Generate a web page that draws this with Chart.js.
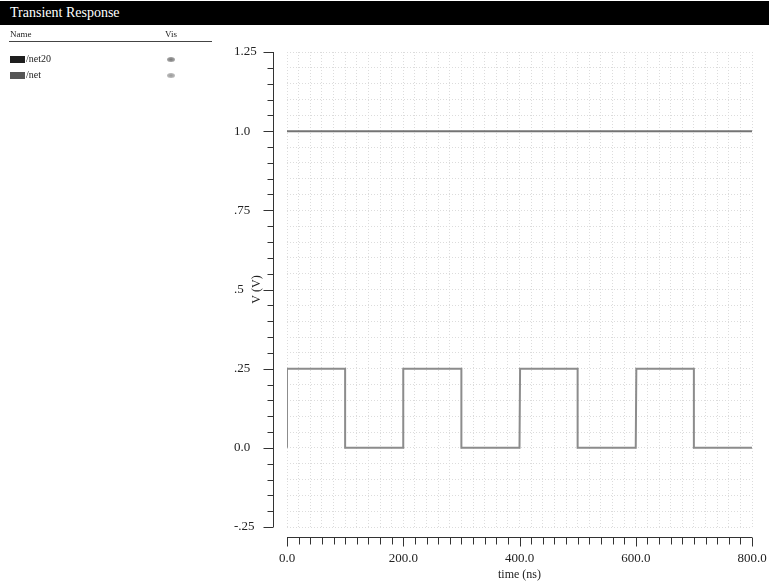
<!DOCTYPE html>
<html>
<head>
<meta charset="utf-8">
<script src="https://cdn.jsdelivr.net/npm/chart.js@4/dist/chart.umd.min.js"></script>
<style>
  body { margin: 0; background: #fff; width: 769px; height: 584px; overflow: hidden; position: relative; font-family: "Liberation Serif", serif; }
  #bar { position: absolute; left: 0; top: 1px; width: 769px; height: 24px; background: #000; color: #fff; font-size: 14px; line-height: 24px; padding-left: 10px; box-sizing: border-box; z-index: 2; }
  #panel { position: absolute; left: 0; top: 21px; width: 215px; font-size: 10px; color: #222; z-index: 2; }
  .hdr { position: absolute; top: 8px; font-size: 9px; }
  #rule { position: absolute; left: 9px; top: 20px; width: 203px; height: 1px; background: #444; }
  .row { position: absolute; left: 10px; height: 8px; }
  .sw { display: inline-block; width: 15px; height: 7px; vertical-align: top; }
  .lbl { position: absolute; left: 16px; top: -3px; }
  .eye { position: absolute; left: 157px; top: 1px; width: 8px; height: 5px; border-radius: 50%; background: radial-gradient(#777, #bbb); }
  #wrap { position: absolute; left: 0; top: 0; width: 769px; height: 584px; }
</style>
</head>
<body>
<div id="bar">Transient Response</div>
<div id="panel">
  <span class="hdr" style="left:10px">Name</span>
  <span class="hdr" style="left:165px">Vis</span>
  <div id="rule"></div>
  <div class="row" style="top:35px"><span class="sw" style="background:#1e1e1e"></span><span class="lbl">/net20</span><span class="eye"></span></div>
  <div class="row" style="top:51px"><span class="sw" style="background:#555"></span><span class="lbl">/net</span><span class="eye" style="background:radial-gradient(#999, #ccc)"></span></div>
</div>
<div id="wrap"><canvas id="c"></canvas></div>
<script>
// waveform vertices (time in ns, volts)
const net20Time = [0, 800];
const net20Volts = [1.0, 1.0];
const netTime = [0, 0, 100, 100, 200, 200, 300, 300, 400, 401, 500, 500, 600, 601, 700, 700, 800];
const netVolts = [0, 0.25, 0.25, 0, 0, 0.25, 0.25, 0, 0, 0.25, 0.25, 0, 0, 0.25, 0.25, 0, 0];
const yTickLabels = { '1.25': '1.25', '1': '1.0', '0.75': '.75', '0.5': '.5', '0.25': '.25', '0': '0.0', '-0.25': '-.25' };
const xTickLabels = [0, 200, 400, 600, 800];

const toPoints = (xs, ys) => xs.map((x, i) => ({ x, y: ys[i] }));
const isMajor = (v, step) => Math.abs(v / step - Math.round(v / step)) < 1e-6;

const axisPlugin = {
  id: 'waveAxes',
  afterDraw(chart) {
    const { ctx, chartArea, scales: { x, y } } = chart;
    ctx.save();
    ctx.strokeStyle = '#333';
    ctx.lineWidth = 1;
    // y axis, offset left of the grid
    const ax = chartArea.left - 13.5;
    ctx.beginPath();
    ctx.moveTo(ax, chartArea.top);
    ctx.lineTo(ax, chartArea.bottom);
    y.ticks.forEach(t => {
      const py = Math.round(y.getPixelForValue(t.value)) + 0.5;
      ctx.moveTo(ax, py);
      ctx.lineTo(ax - (isMajor(t.value, 0.25) ? 10 : 6), py);
    });
    // x axis, offset below the grid
    const ay = chartArea.bottom + 10.5;
    ctx.moveTo(chartArea.left, ay);
    ctx.lineTo(chartArea.right, ay);
    x.ticks.forEach(t => {
      const px = Math.round(x.getPixelForValue(t.value)) + 0.5;
      ctx.moveTo(px, ay);
      ctx.lineTo(px, ay + (isMajor(t.value, 200) ? 9 : 7));
    });
    ctx.stroke();
    // y tick labels, left aligned
    ctx.fillStyle = '#222';
    ctx.font = '13px "Liberation Serif"';
    ctx.textAlign = 'left';
    ctx.textBaseline = 'middle';
    y.ticks.forEach(t => {
      if (!isMajor(t.value, 0.25)) return;
      const lbl = yTickLabels[String(Math.round(t.value * 100) / 100)];
      ctx.fillText(lbl, chartArea.left - 53, y.getPixelForValue(t.value));
    });
    // y title
    ctx.font = '12px "Liberation Serif"';
    ctx.textAlign = 'center';
    ctx.translate(chartArea.left - 30, (chartArea.top + chartArea.bottom) / 2);
    ctx.rotate(-Math.PI / 2);
    ctx.fillText('V (V)', 0, 0);
    ctx.restore();
  }
};

const noPad = s => { s.paddingLeft = 0; s.paddingRight = 0; s.paddingTop = 0; s.paddingBottom = 0; };

new Chart(document.getElementById('c'), {
  type: 'line',
  plugins: [axisPlugin],
  data: {
    datasets: [
      {
        label: '/net20',
        data: toPoints(net20Time, net20Volts),
        borderColor: '#747474',
        borderWidth: 2,
        pointRadius: 0,
        fill: false
      },
      {
        label: '/net',
        data: toPoints(netTime, netVolts),
        borderColor: '#8c8c8c',
        borderWidth: 2,
        pointRadius: 0,
        fill: false
      }
    ]
  },
  options: {
    responsive: true,
    maintainAspectRatio: false,
    animation: false,
    layout: { padding: { left: 0, top: 52, right: 17, bottom: 0 } },
    plugins: { legend: false, tooltip: false },
    scales: {
      x: {
        type: 'linear',
        min: 0,
        max: 800,
        afterFit: s => { s.height = 57; noPad(s); },
        grid: { color: '#dcdcdc', drawTicks: false },
        border: { display: false, dash: [1, 2] },
        ticks: {
          stepSize: 20,
          autoSkip: false,
          maxRotation: 0,
          padding: 24,
          color: '#222',
          font: { family: 'Liberation Serif', size: 13 },
          callback: v => (xTickLabels.includes(v) ? v.toFixed(1) : '')
        },
        title: {
          display: true,
          text: 'time (ns)',
          color: '#222',
          font: { family: 'Liberation Serif', size: 12 },
          padding: { top: 0, bottom: 2 }
        }
      },
      y: {
        type: 'linear',
        min: -0.25,
        max: 1.25,
        afterFit: s => { s.width = 287; noPad(s); },
        grid: { color: '#dcdcdc', drawTicks: false },
        border: { display: false, dash: [1, 2] },
        ticks: {
          stepSize: 0.05,
          autoSkip: false,
          display: false
        }
      }
    }
  }
});
</script>
</body>
</html>
